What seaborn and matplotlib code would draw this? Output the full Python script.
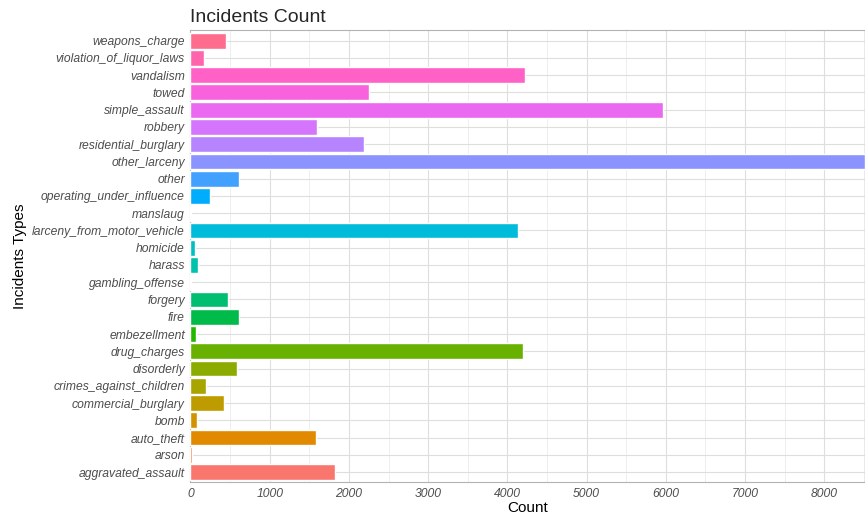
import numpy as np
import pandas as pd
import seaborn as sns
import matplotlib.pyplot as plt
from matplotlib.ticker import MultipleLocator

# Incident categories (alphabetical, bottom to top in the chart)
categories = [
    "aggravated_assault", "arson", "auto_theft", "bomb", "commercial_burglary",
    "crimes_against_children", "disorderly", "drug_charges", "embezellment",
    "fire", "forgery", "gambling_offense", "harass", "homicide",
    "larceny_from_motor_vehicle", "manslaug", "operating_under_influence",
    "other", "other_larceny", "residential_burglary", "robbery",
    "simple_assault", "towed", "vandalism", "violation_of_liquor_laws",
    "weapons_charge",
]
counts = [
    1825, 19, 1582, 84, 425,
    198, 588, 4195, 70,
    614, 475, 3, 96, 58,
    4132, 2, 247,
    613, 8515, 2193, 1595,
    5966, 2256, 4224, 168,
    450,
]


def hcl_hex(h, c=100, l=65):
    # ggplot2 style hue colour (polar LUV -> sRGB)
    xn, yn, zn = 95.047, 100.0, 108.883
    den = xn + 15 * yn + 3 * zn
    un, vn = 4 * xn / den, 9 * yn / den
    u, v = c * np.cos(np.radians(h)), c * np.sin(np.radians(h))
    y = yn * ((l + 16) / 116) ** 3
    up, vp = u / (13 * l) + un, v / (13 * l) + vn
    x = 9 * y * up / (4 * vp)
    z = -x / 3 - 5 * y + 3 * y / vp
    x, y, z = x / 100, y / 100, z / 100
    rgb = [3.240479 * x - 1.537150 * y - 0.498535 * z,
           -0.969256 * x + 1.875992 * y + 0.041556 * z,
           0.055648 * x - 0.204043 * y + 1.057311 * z]
    out = []
    for ch in rgb:
        ch = 12.92 * ch if ch <= 0.0031308 else 1.055 * ch ** (1 / 2.4) - 0.055
        out.append(min(max(ch, 0), 1))
    return tuple(out)


n = len(categories)
hues = np.linspace(15, 375, n + 1)[:n]
palette = {cat: hcl_hex(h) for cat, h in zip(categories, hues)}

df = pd.DataFrame({"type": categories, "count": counts})
order = categories[::-1]  # top of the chart is the last category

sns.set_style("white")
plt.rcParams["font.family"] = ["Liberation Sans", "DejaVu Sans"]

fig = plt.figure(figsize=(8.65, 5.18), dpi=100)
ax = fig.add_axes([0.2202, 0.0687, 0.7798, 0.8728])

sns.barplot(data=df, x="count", y="type", hue="type", order=order,
            hue_order=order, palette=palette, saturation=1, width=0.92,
            legend=False, dodge=False, ax=ax, zorder=3)

ax.set_xlim(0, 8515)
ax.set_ylim(n - 1 + 0.6, -0.6)
ax.xaxis.set_major_locator(MultipleLocator(1000))
ax.xaxis.set_minor_locator(MultipleLocator(500))
ax.grid(which="major", axis="both", color="#DEDEDE", lw=0.8, zorder=0)
ax.grid(which="minor", axis="x", color="#EBEBEB", lw=0.6, zorder=0)
ax.set_axisbelow(True)

for s in ax.spines.values():
    s.set_visible(True)
    s.set_color("#B3B3B3")
    s.set_linewidth(0.8)

ax.tick_params(axis="both", which="major", length=3, color="#B3B3B3",
               labelcolor="#4D4D4D", labelsize=8.7, pad=1)
ax.tick_params(axis="both", which="minor", length=0)
for lab in ax.get_xticklabels() + ax.get_yticklabels():
    lab.set_fontstyle("italic")

ax.set_xlabel("Count", fontsize=11, color="black", labelpad=1)
ax.set_ylabel("Incidents Types", fontsize=11, color="black")
ax.yaxis.set_label_coords(-0.243, 0.5)
ax.set_title("Incidents Count", loc="left", fontsize=14, pad=6)

fig.savefig("out.png", dpi=100)
